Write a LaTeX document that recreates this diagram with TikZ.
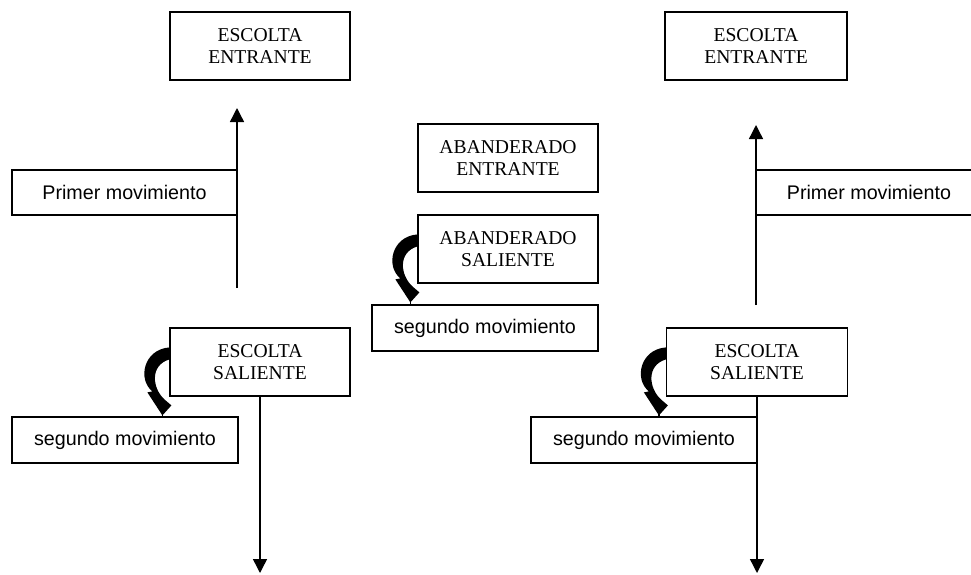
\documentclass[tikz,border=0pt]{standalone}
\usepackage{fontspec}
\setmainfont{Liberation Serif}
\setsansfont{Liberation Sans}
\usetikzlibrary{arrows.meta}
\tikzset{
  serifbox/.style={draw, line width=1.2pt, fill=white, inner sep=0pt, align=center,
    font=\fontsize{19.6}{22}\selectfont, minimum width=180pt, minimum height=68pt},
  sansbox/.style={draw, line width=1.2pt, fill=white, inner sep=0pt, align=center,
    font=\sffamily\fontsize{19.7}{23}\selectfont, minimum width=226pt, minimum height=46pt},
  flow/.style={line width=1.4pt, -{Triangle[width=14pt,length=14pt]}},
  stem/.style={line width=1.2pt},
  crescent/.pic={
    \fill (0,20) .. controls (-26,22) and (-32,52) .. (-17,64)
      -- (-22,65) -- (-7,88) -- (2,78) -- (-5,72)
      .. controls (-17,61) and (-20,38) .. (0,32) -- cycle;
    \coordinate (-tip) at (-7,86);
  }
}
\begin{document}
\begin{tikzpicture}[x=1pt,y=-1pt]
  \clip (0,0) rectangle (971,574);
  \useasboundingbox (0,0) rectangle (971,574);
  % left column
  \node[serifbox] (escE1) at (260,46) {ESCOLTA\\ENTRANTE};
  \node[sansbox, minimum height=45pt, minimum width=225pt] (prim1) at (124.5,192.5) {Primer movimiento};
  \node[serifbox] (escS1) at (260,362) {ESCOLTA\\SALIENTE};
  \node[sansbox] (seg1) at (125,440) {segundo movimiento};
  \coordinate (up1s) at (237,288);
  \coordinate (up1e) at (237,108);
  \coordinate (dn1e) at (260,573);
  \draw[flow] (up1s) -- (up1e);
  \draw[flow] (escS1.south) -- (dn1e);
  \pic (c1) at (escS1.north west) {crescent};
  \draw[stem] (c1-tip) -- (c1-tip |- seg1.north);
  % middle column
  \node[serifbox] (abE) at (508,158) {ABANDERADO\\ENTRANTE};
  \node[serifbox] (abS) at (508,249) {ABANDERADO\\SALIENTE};
  \node[sansbox] (seg2) at (485,328) {segundo movimiento};
  \pic (c2) at (abS.north west) {crescent};
  \draw[stem] (c2-tip) -- (c2-tip |- seg2.north);
  % right column
  \node[serifbox, minimum width=182pt] (escE2) at (756,46) {ESCOLTA\\ENTRANTE};
  \node[sansbox, minimum height=45pt] (prim2) at (869,192.5) {Primer movimiento};
  \node[serifbox, minimum width=181pt] (escS2) at (757,362) {ESCOLTA\\SALIENTE};
  \node[sansbox] (seg3) at (644,440) {segundo movimiento};
  \coordinate (up2s) at (756,305);
  \coordinate (up2e) at (756,125);
  \coordinate (dn2e) at (757,573);
  \draw[flow] (up2s) -- (up2e);
  \draw[flow] (escS2.south) -- (dn2e);
  \pic (c3) at (escS2.north west) {crescent};
  \draw[stem] (c3-tip) -- (c3-tip |- seg3.north);
\end{tikzpicture}
\end{document}
